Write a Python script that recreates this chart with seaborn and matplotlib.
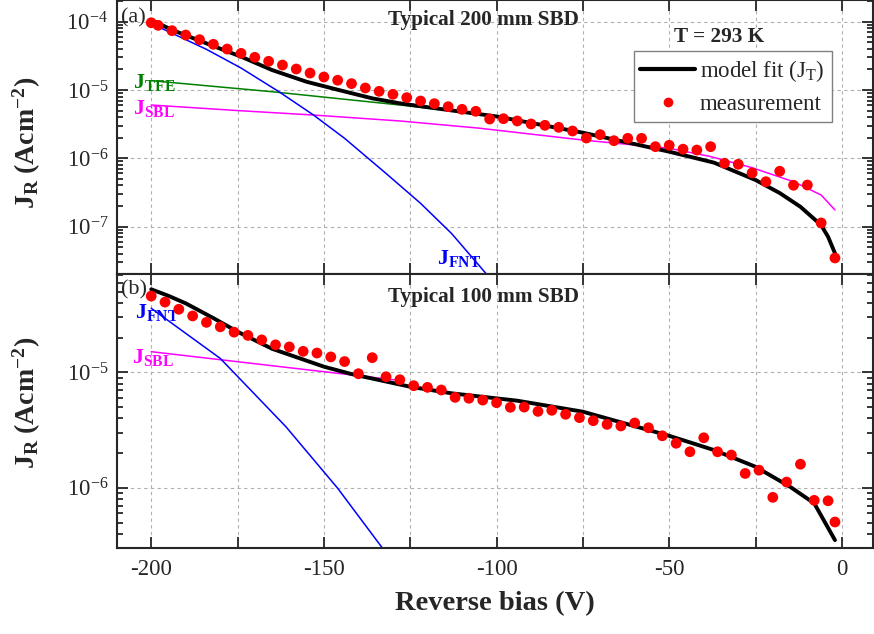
import numpy as np
import pandas as pd
import matplotlib
matplotlib.use('Agg')
import matplotlib.pyplot as plt
import matplotlib.ticker as mticker
from matplotlib.lines import Line2D
import seaborn as sns

# --- panel (a): typical 200 mm SBD ---
v_meas_a = [-200, -198, -194, -190, -186, -182, -178, -174, -170, -166, -162, -158,
            -154, -150, -146, -142, -138, -134, -130, -126, -122, -118, -114, -110,
            -106, -102, -98, -94, -90, -86, -82, -78, -74, -70, -66, -62, -58, -54,
            -50, -46, -42, -38, -34, -30, -26, -22, -18, -14, -10, -6, -2]
j_meas_a = [9.66e-5, 8.85e-5, 7.40e-5, 6.38e-5, 5.46e-5, 4.67e-5, 3.98e-5, 3.44e-5,
            3.01e-5, 2.63e-5, 2.32e-5, 2.03e-5, 1.77e-5, 1.55e-5, 1.39e-5, 1.24e-5,
            1.07e-5, 9.57e-6, 8.65e-6, 7.73e-6, 6.90e-6, 6.31e-6, 5.70e-6, 5.21e-6,
            4.88e-6, 3.76e-6, 3.80e-6, 3.52e-6, 3.18e-6, 3.04e-6, 2.84e-6, 2.51e-6,
            1.98e-6, 2.22e-6, 1.81e-6, 1.96e-6, 1.96e-6, 1.48e-6, 1.55e-6, 1.36e-6,
            1.32e-6, 1.48e-6, 8.45e-7, 8.17e-7, 6.10e-7, 4.54e-7, 6.46e-7, 4.03e-7,
            4.06e-7, 1.13e-7, 3.47e-8]

v_fit_a = [-200, -194, -184, -174, -165, -155, -145, -136, -128, -120, -100, -75,
           -50, -37, -25, -18, -12, -6, -4, -2]
j_fit_a = [1.06e-4, 7.6e-5, 4.82e-5, 3.08e-5, 1.96e-5, 1.32e-5, 9.8e-6, 7.55e-6,
           6.38e-6, 5.6e-6, 4.1e-6, 2.37e-6, 1.25e-6, 8.63e-7, 4.81e-7, 3.1e-7,
           1.95e-7, 1.05e-7, 7.1e-8, 4.07e-8]

v_fnt_a = [-200, -197, -184, -174, -163, -153, -144, -132, -122, -113, -102]
j_fnt_a = [1.06e-4, 8.0e-5, 3.94e-5, 2.1e-5, 9.44e-6, 4.3e-6, 1.96e-6, 6.0e-7,
           2.19e-7, 7.9e-8, 1.78e-8]

v_tfe_a = [-200, -165, -128, -118]
j_tfe_a = [1.37e-5, 9.44e-6, 6.03e-6, 5.3e-6]

v_sbl_a = [-200, -175, -153, -128, -105, -75, -50, -38, -26, -14, -6, -2]
j_sbl_a = [6.03e-6, 5.0e-6, 4.3e-6, 3.52e-6, 2.76e-6, 1.85e-6, 1.40e-6, 1.06e-6,
           7.28e-7, 4.54e-7, 2.9e-7, 1.75e-7]

# --- panel (b): typical 100 mm SBD ---
v_meas_b = [-200, -196, -192, -188, -184, -180, -176, -172, -168, -164, -160, -156,
            -152, -148, -144, -140, -136, -132, -128, -124, -120, -116, -112, -108,
            -104, -100, -96, -92, -88, -84, -80, -76, -72, -68, -64, -60, -56, -52,
            -48, -44, -40, -36, -32, -28, -24, -20, -16, -12, -8, -4, -2]
j_meas_b = [4.58e-5, 4.06e-5, 3.52e-5, 3.08e-5, 2.71e-5, 2.48e-5, 2.23e-5, 2.09e-5,
            1.91e-5, 1.73e-5, 1.66e-5, 1.52e-5, 1.47e-5, 1.36e-5, 1.24e-5, 9.73e-6,
            1.34e-5, 9.16e-6, 8.63e-6, 7.66e-6, 7.41e-6, 7.03e-6, 6.07e-6, 5.96e-6,
            5.75e-6, 5.46e-6, 4.98e-6, 5.00e-6, 4.59e-6, 4.69e-6, 4.33e-6, 4.05e-6,
            3.81e-6, 3.54e-6, 3.43e-6, 3.64e-6, 3.31e-6, 2.82e-6, 2.43e-6, 2.05e-6,
            2.71e-6, 2.05e-6, 1.92e-6, 1.33e-6, 1.42e-6, 8.26e-7, 1.12e-6, 1.60e-6,
            7.78e-7, 7.71e-7, 5.05e-7]

v_fit_b = [-200, -195, -190, -182, -175, -165, -150, -142, -125, -113, -94, -75,
           -50, -37, -25, -15, -8, -2]
j_fit_b = [5.24e-5, 4.6e-5, 3.96e-5, 2.95e-5, 2.25e-5, 1.6e-5, 1.12e-5, 9.66e-6,
           7.5e-6, 6.58e-6, 5.68e-6, 4.56e-6, 2.82e-6, 2.12e-6, 1.52e-6, 1.02e-6,
           7.33e-7, 3.52e-7]

v_fnt_b = [-200, -180, -161, -146, -133, -131]
j_fnt_b = [3.59e-5, 1.32e-5, 3.38e-6, 9.9e-7, 2.99e-7, 2.5e-7]

v_sbl_b = [-200, -142, -128]
j_sbl_b = [1.51e-5, 9.5e-6, 8.5e-6]

sns.set_style('ticks')
plt.rcParams['font.family'] = ['Liberation Serif', 'DejaVu Serif']
plt.rcParams['mathtext.fontset'] = 'custom'
plt.rcParams['mathtext.rm'] = 'Liberation Serif'
plt.rcParams['mathtext.bf'] = 'Liberation Serif:bold'
plt.rcParams['mathtext.it'] = 'Liberation Serif:italic'
plt.rcParams['axes.unicode_minus'] = False
plt.rcParams['axes.linewidth'] = 1.5

RED, BLUE, GREEN, MAG = '#ff0000', '#0000ff', '#008000', '#ff00ff'

fig = plt.figure(figsize=(8.74, 6.34), dpi=100)
ax_a = fig.add_axes([0.1335, 0.5678, 0.8653, 0.4322])
ax_b = fig.add_axes([0.1335, 0.1352, 0.8653, 0.4326])


def setup(ax, ylim, bottom_labels, label_y):
    ax.set_yscale('log')
    ax.set_xlim(-210, 9)
    ax.set_ylim(*ylim)
    ax.xaxis.set_major_locator(mticker.MultipleLocator(25))
    ax.xaxis.set_major_formatter(mticker.FuncFormatter(
        lambda v, p: ('%d' % v) if (bottom_labels and round(v) % 50 == 0) else ''))
    ax.yaxis.set_major_locator(mticker.LogLocator(base=10))
    ax.yaxis.set_minor_locator(mticker.LogLocator(base=10, subs=np.arange(2, 10)))
    ax.yaxis.set_major_formatter(mticker.LogFormatterMathtext())
    ax.yaxis.set_minor_formatter(mticker.NullFormatter())
    ax.tick_params(which='both', direction='in', top=True, right=True,
                   labelsize=16.5, width=1.3)
    ax.tick_params(which='major', length=8)
    ax.tick_params(which='minor', length=4)
    ax.tick_params(axis='x', pad=8)
    ax.tick_params(axis='y', pad=6)
    ax.grid(True, which='major', color='#b0b0b0', linestyle=(0, (3, 3)), lw=0.8)
    ax.set_axisbelow(True)
    for s in ax.spines.values():
        s.set_linewidth(1.5)
    ax.set_xlabel('')
    ax.set_ylabel(r'$\mathbf{J_R}$ (Acm$^{\mathbf{-2}}$)', fontsize=20,
                  fontweight='bold')
    ax.yaxis.set_label_coords(-0.097, label_y)


# panel (a)
sns.lineplot(x=v_sbl_a, y=j_sbl_a, ax=ax_a, color=MAG, lw=1.1, sort=False, estimator=None)
sns.lineplot(x=v_tfe_a, y=j_tfe_a, ax=ax_a, color=GREEN, lw=1.1, sort=False, estimator=None)
sns.lineplot(x=v_fnt_a, y=j_fnt_a, ax=ax_a, color=BLUE, lw=1.1, sort=False, estimator=None)
sns.lineplot(x=v_fit_a, y=j_fit_a, ax=ax_a, color='black', lw=2.8, sort=False, estimator=None)
sns.scatterplot(x=v_meas_a, y=j_meas_a, ax=ax_a, color=RED, s=60, edgecolor='none', zorder=5)
setup(ax_a, (2.02e-8, 2.08e-4), False, 0.48)

# panel (b)
sns.lineplot(x=v_sbl_b, y=j_sbl_b, ax=ax_b, color=MAG, lw=1.1, sort=False, estimator=None)
sns.lineplot(x=v_fnt_b, y=j_fnt_b, ax=ax_b, color=BLUE, lw=1.1, sort=False, estimator=None)
sns.lineplot(x=v_fit_b, y=j_fit_b, ax=ax_b, color='black', lw=2.8, sort=False, estimator=None)
sns.scatterplot(x=v_meas_b, y=j_meas_b, ax=ax_b, color=RED, s=60, edgecolor='none', zorder=5)
setup(ax_b, (2.99e-7, 7.11e-5), True, 0.53)
ax_b.set_xlabel('Reverse bias (V)', fontsize=20.5, fontweight='bold', labelpad=8)

# annotations
ax_a.text(0.006, 0.935, '(a)', transform=ax_a.transAxes, fontsize=16, ha='left', va='center')
ax_b.text(0.006, 0.942, '(b)', transform=ax_b.transAxes, fontsize=16, ha='left', va='center')
ax_a.text(0.485, 0.927, 'Typical 200 mm SBD', transform=ax_a.transAxes, fontsize=15.3,
          fontweight='bold', ha='center', va='center')
ax_b.text(0.485, 0.916, 'Typical 100 mm SBD', transform=ax_b.transAxes, fontsize=15.3,
          fontweight='bold', ha='center', va='center')
ax_a.text(0.797, 0.865, 'T = 293 K', transform=ax_a.transAxes, fontsize=15.3,
          fontweight='bold', ha='center', va='center')

lab = dict(fontsize=16, ha='left', va='center')
ax_a.text(0.022, 0.70, r'$\mathbf{J}_{\mathbf{TFE}}$', color=GREEN, transform=ax_a.transAxes, **lab)
ax_a.text(0.022, 0.605, r'$\mathbf{J}_{\mathbf{SBL}}$', color=MAG, transform=ax_a.transAxes, **lab)
ax_a.text(0.424, 0.058, r'$\mathbf{J}_{\mathbf{FNT}}$', color=BLUE, transform=ax_a.transAxes, **lab)
ax_b.text(0.024, 0.86, r'$\mathbf{J}_{\mathbf{FNT}}$', color=BLUE, transform=ax_b.transAxes, **lab)
ax_b.text(0.020, 0.695, r'$\mathbf{J}_{\mathbf{SBL}}$', color=MAG, transform=ax_b.transAxes, **lab)

handles = [Line2D([], [], color='black', lw=3),
           Line2D([], [], color=RED, marker='o', ls='none', markersize=7, markeredgewidth=0)]
leg = ax_a.legend(handles, [r'model fit (J$_{\mathrm{T}}$)', 'measurement'],
                  loc='upper left', bbox_to_anchor=(0.6835, 0.815), fontsize=16.5,
                  frameon=True, fancybox=False, edgecolor='#808080', framealpha=1,
                  handlelength=2.4, borderpad=0.3, labelspacing=0.45, handletextpad=0.2,
                  borderaxespad=0)
leg.get_frame().set_linewidth(1.0)

fig.savefig('out.png', dpi=100)
